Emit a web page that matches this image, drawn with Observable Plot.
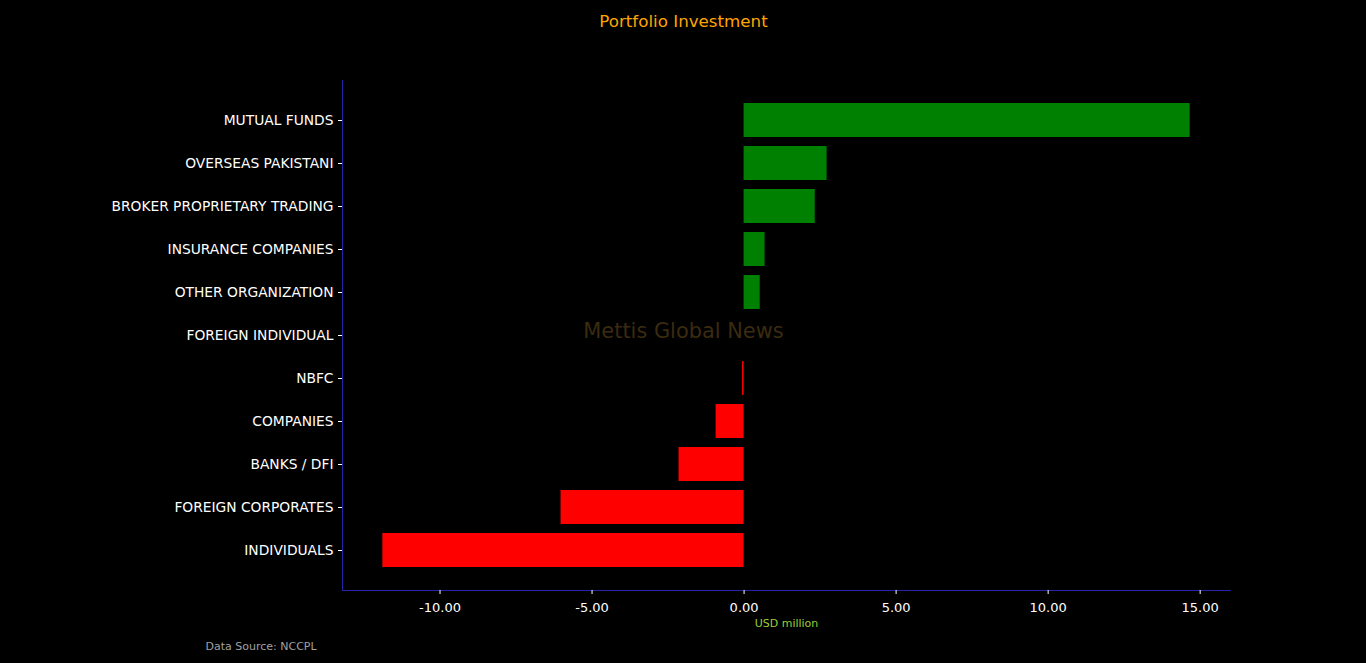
<!DOCTYPE html>
<html>
<head>
<meta charset="utf-8">
<script src="https://cdn.jsdelivr.net/npm/d3@7"></script>
<script src="https://cdn.jsdelivr.net/npm/@observablehq/plot@0.6"></script>
<style>
  html, body { margin: 0; padding: 0; background: #000; }
  #chart svg { display: block; }
</style>
</head>
<body>
<div id="chart"></div>
<script>
const categories = [
  "MUTUAL FUNDS",
  "OVERSEAS PAKISTANI",
  "BROKER PROPRIETARY TRADING",
  "INSURANCE COMPANIES",
  "OTHER ORGANIZATION",
  "FOREIGN INDIVIDUAL",
  "NBFC",
  "COMPANIES",
  "BANKS / DFI",
  "FOREIGN CORPORATES",
  "INDIVIDUALS"
];
const values = [14.67, 2.73, 2.34, 0.69, 0.53, 0.0, -0.05, -0.92, -2.14, -6.02, -11.88];
const xTicks = [-10, -5, 0, 5, 10, 15];
const titleText = "Portfolio Investment";
const xLabelText = "USD million";
const sourceText = "Data Source: NCCPL";
const watermarkText = "Mettis Global News";

const data = categories.map((name, i) => ({name, value: values[i]}));

const vmin = d3.min(values), vmax = d3.max(values);
const pad = (vmax - vmin) * 0.05;
const xDomain = [vmin - pad, vmax + pad];

const spine = "#2424a8";
const W = 1366, H = 663;
const mL = 342, mR = W - 1230, mT = 80, mB = H - 590;
const frameCx = mL + (W - mL - mR) / 2;
const frameCy = mT + (H - mT - mB) / 2;

const chart = Plot.plot({
  width: W,
  height: H,
  marginLeft: mL,
  marginRight: mR,
  marginTop: mT,
  marginBottom: mB,
  style: {background: "#000", color: "#fff", fontFamily: "DejaVu Sans", fontSize: "13px"},
  x: {domain: xDomain},
  y: {domain: categories, paddingInner: 0.2, paddingOuter: 0.53},
  marks: [
    Plot.barX(data, {
      x: "value",
      y: "name",
      fill: d => d.value >= 0 ? "#008000" : "#ff0000"
    }),
    Plot.ruleX([xDomain[0]], {stroke: spine, strokeWidth: 1}),
    Plot.frame({anchor: "bottom", stroke: spine, strokeWidth: 1}),
    Plot.axisX({
      ticks: xTicks,
      tickFormat: d => d.toFixed(2),
      tickSize: 4,
      tickPadding: 8,
      stroke: "#fff",
      fill: "#fff",
      fontSize: 13,
      label: null
    }),
    Plot.axisY({
      tickSize: 4,
      tickPadding: 5,
      stroke: "#fff",
      fill: "#fff",
      fontSize: 13.8,
      label: null
    }),
    Plot.text([xLabelText], {
      frameAnchor: "bottom",
      dy: 33,
      lineAnchor: "middle",
      fill: "#9acd32",
      fontSize: 11
    }),
    Plot.text([titleText], {
      frameAnchor: "top",
      dx: W / 2 - frameCx,
      dy: -59,
      lineAnchor: "middle",
      fill: "#ffa500",
      fontSize: 16.7
    }),
    Plot.text([watermarkText], {
      frameAnchor: "middle",
      dx: W / 2 - frameCx,
      dy: 331 - frameCy,
      lineAnchor: "middle",
      fill: "#3b2b10",
      fontSize: 20.9
    }),
    Plot.text([sourceText], {
      frameAnchor: "bottom-left",
      dx: 205 - mL,
      dy: 56,
      textAnchor: "start",
      lineAnchor: "middle",
      fill: "#a0a0a0",
      fontSize: 11
    })
  ]
});
document.getElementById("chart").appendChild(chart);
</script>
</body>
</html>
